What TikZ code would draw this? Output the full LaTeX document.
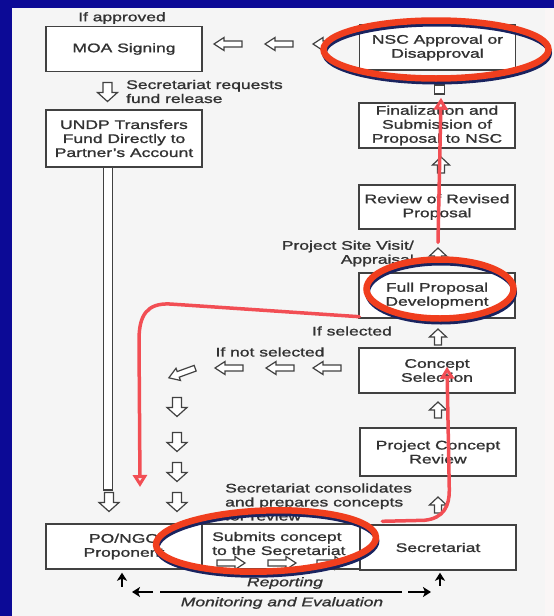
\documentclass[tikz,border=0pt]{standalone}
\usepackage{fontspec}
\setmainfont[FakeStretch=1.4, FakeBold=1.3]{Liberation Sans}
\usetikzlibrary{shapes.geometric,arrows.meta,calc}
\definecolor{bgblue}{RGB}{12,10,150}
\definecolor{panelc}{RGB}{245,245,245}
\definecolor{edgec}{RGB}{250,246,246}
\definecolor{ink}{RGB}{50,50,50}
\definecolor{boxc}{RGB}{65,65,65}
\definecolor{ellc}{RGB}{240,62,30}
\definecolor{shadc}{RGB}{25,35,95}
\definecolor{redln}{RGB}{242,78,84}
\begin{document}
\begin{tikzpicture}[x=1pt,y=-1pt,
  txt/.style={font=\fontsize{12.5}{14}\selectfont, text=ink, inner sep=0pt, align=center},
  itxt/.style={txt, font=\fontsize{12.5}{14}\selectfont\itshape},
  box/.style={txt, draw=boxc, line width=1.4pt, fill=white, minimum width=156pt, minimum height=45pt},
  arrowpath/.style={draw=boxc, line width=1.2pt, fill=white, line join=miter},
  harr/.pic={\path[arrowpath] (-14,-3) -- (4,-3) -- (4,-6.5) -- (14,0) -- (4,6.5) -- (4,3) -- (-14,3) -- cycle;},
  varr/.pic={\path[arrowpath] (-9.5,-4.5) -- (0.5,-4.5) -- (0.5,-10) -- (9.5,0) -- (0.5,10) -- (0.5,4.5) -- (-9.5,4.5) -- cycle;},
  uarr/.pic={\path[arrowpath] (-8,-3.5) -- (0,-3.5) -- (0,-8.5) -- (8,0) -- (0,8.5) -- (0,3.5) -- (-8,3.5) -- cycle;},
  ring/.style={ellipse, draw=ellc, line width=6.5pt, inner sep=0pt},
  ringshadow/.style={ellipse, draw=shadc, line width=5pt, inner sep=0pt},
  redarrow/.style={draw=redln, line width=3.5pt, line cap=round, line join=round, -{Triangle[open, length=12pt, width=14pt]}},
  blk/.style={draw=black, line width=2.2pt, -{Stealth[length=8pt, width=10pt, inset=2pt]}},
  blkline/.style={draw=black, line width=2pt}
]
\useasboundingbox (0,0) rectangle (554,616);
\fill[bgblue] (0,0) rectangle (554,616);
\fill[panelc] (12,8) rectangle (545,616);
\fill[edgec] (545,8) rectangle (554,616);

% boxes
\node[box] (moa) at (124,49) {MOA Signing};
\node[box, minimum height=57pt] (undp) at (124,138.5) {UNDP Transfers\\Fund Directly to\\Partner's Account};
\node[box] (nsc) at (437.5,47.5) {NSC Approval or\\Disapproval};
\node[box] (fin) at (437,125.5) {Finalization and\\Submission of\\Proposal to NSC};
\node[box, minimum height=44pt] (rev) at (437,207) {Review of Revised\\Proposal};
\node[box] (full) at (437,295.5) {Full Proposal\\Development};
\node[box] (csel) at (437,370.5) {Concept\\Selection};
\node[box, minimum height=48pt] (pcr) at (438,452) {Project Concept\\Review};
\node[box] (sec) at (438,547.5) {Secretariat};
\node[box] (po) at (124,546.5) {PO/NGO\\Proponent};
\node[box, minimum width=158pt] (sub) at (281,546.5) {};

% long bar from UNDP
\node[draw=boxc, line width=1.2pt, fill=white, minimum width=9pt, minimum height=323pt, inner sep=0pt] (bar) at (108,328.5) {};
\node[draw=boxc, line width=1.2pt, fill=white, minimum width=10pt, minimum height=9pt, inner sep=0pt] (sq) at (439.5,89.5) {};

% hollow arrows
\pic[rotate=180] at (228,44) {harr};
\pic[rotate=180] at (279,44) {harr};
\begin{scope}
\clip (300,30) rectangle (326,60);
\pic[rotate=180] at (327,44) {harr};
\end{scope}
\pic[rotate=-90] at (107.5,92) {varr};
\pic[rotate=-90] at (177,407) {varr};
\pic[rotate=-90] at (177,442) {varr};
\pic[rotate=-90] at (177,472) {varr};
\pic[rotate=-90] at (177,502) {varr};
\pic[rotate=-90] at (109,502) {varr};
\pic[rotate=200] at (182,373) {harr};
\pic[rotate=180] at (229,368) {harr};
\pic[rotate=180] at (280,368) {harr};
\pic[rotate=180] at (327,368) {harr};
\pic[rotate=90] at (441,165) {uarr};
\pic[rotate=90] at (438,256) {uarr};
\pic[rotate=90] at (438,337) {uarr};
\pic[rotate=90] at (438,410) {uarr};
\pic[rotate=90] at (438,505) {uarr};
\pic at (231,563) {harr};
\pic at (282,563) {harr};
\pic at (331,563) {harr};

% texts
\node[txt] (tapp) at (122,18) {If approved};
\node[txt, align=left, anchor=west] (treq) at (126,91.5) {Secretariat requests\\fund release};
\node[txt, align=right, anchor=east] (tsite) at (414,253.5) {Project Site Visit/\\Appraisal};
\node[txt] (tsel) at (352,331) {If selected};
\node[txt] (tnot) at (270,352) {If not selected};
\node[txt, align=left, anchor=west] (tcons) at (225,502) {Secretariat consolidates\\and prepares concepts\\for review};
\node[txt, align=left, anchor=west] (tsub) at (212,543.5) {Submits concept\\to the Secretariat};
\node[itxt] (trep) at (285,583) {Reporting};
\node[itxt] (tmon) at (282,603) {Monitoring and Evaluation};

% black arrows
\draw[blk] ($(po.south)+(-2,17)$) -- ($(po.south)+(-2,3)$);
\draw[blk] ($(sec.south)+(2,15)$) -- ($(sec.south)+(2,2)$);
\coordinate (mla) at (153,592);
\coordinate (mlb) at (132,592);
\coordinate (mma) at (160,592);
\coordinate (mmb) at (402,592);
\coordinate (mra) at (408,592);
\coordinate (mrb) at (431,592);
\draw[blk] (mla) -- (mlb);
\draw[blkline] (mma) -- (mmb);
\draw[blk] (mra) -- (mrb);

% red annotations
\node[ringshadow, minimum width=225pt, minimum height=58pt] (e1s) at (437,53) {};
\node[ring, minimum width=225pt, minimum height=58pt] (e1) at (436,49.5) {};
\node[ringshadow, minimum width=147pt, minimum height=59pt] (e2s) at (441,292.5) {};
\node[ring, minimum width=147pt, minimum height=59pt] (e2) at (440,289) {};
\node[ringshadow, minimum width=220pt, minimum height=61pt, rotate=2] (e3s) at (267,544.5) {};
\node[ring, minimum width=220pt, minimum height=61pt, rotate=2] (e3) at (266,541) {};

\coordinate (a0) at ($(sec.north west)+(23,-3)$);
\draw[redarrow] (a0) -- ++(42,-1) .. controls +(20,-2) and +(0,15) .. ++(25,-30) -- ($(csel.south)+(10,-27)$);
\draw[redarrow] ($(full.north)+(1,-30)$) -- ($(nsc.south)+(3.5,27)$);
\coordinate (c1) at (170,304);
\coordinate (c2) at (139,340);
\coordinate (c3) at (140,487);
\draw[redarrow] ($(full.south west)+(1,-2)$) -- (c1) .. controls (147,303) and (139,315) .. (c2) -- (c3);
\end{tikzpicture}
\end{document}
